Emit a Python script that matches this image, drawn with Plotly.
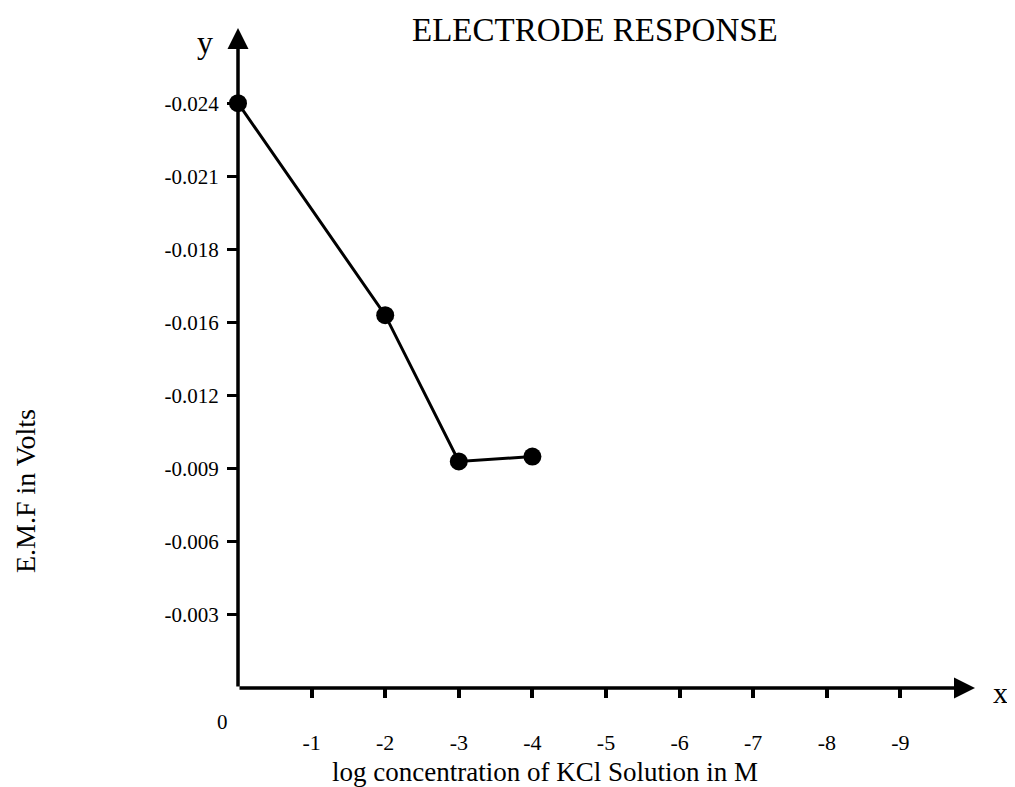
import numpy as np
import plotly.graph_objects as go

# Data
log_conc = [0, -2, -3, -4]
emf_volts = [-0.024, -0.0162, -0.0093, -0.0095]

# Y axis ticks (drawn evenly spaced in the original, though values are not)
y_tick_values = [0, -0.003, -0.006, -0.009, -0.012, -0.016, -0.018, -0.021, -0.024]
y_tick_labels = ["", "-0.003", "-0.006", "-0.009", "-0.012", "-0.016", "-0.018", "-0.021", "-0.024"]
x_tick_values = [-1, -2, -3, -4, -5, -6, -7, -8, -9]
x_tick_labels = ["-1", "-2", "-3", "-4", "-5", "-6", "-7", "-8", "-9"]

# The chart's own piecewise scale: each tick value sits at an evenly spaced position
y_positions = list(range(len(y_tick_values)))
mag_ticks = [-v for v in y_tick_values]
y_plot = [float(np.interp(-v, mag_ticks, y_positions)) for v in emf_volts]

FONT = "Liberation Serif, Times New Roman, serif"

fig = go.Figure()
fig.add_trace(go.Scatter(
    x=log_conc, y=y_plot, mode="lines+markers",
    line=dict(color="black", width=3),
    marker=dict(color="black", size=18),
    showlegend=False, cliponaxis=False,
))

# page body has an 8px margin, so the figure is laid out in page coords - 8
W, H = 1007, 779
L, R, T = 230, 40, 20
B = H - 680
PW, PH = W - L - R, H - T - B
x_range = [0, -PW / 73.6]
y_range = [0, PH / 73.1]

fig.update_layout(
    width=W, height=H,
    margin=dict(l=L, r=R, t=T, b=B),
    paper_bgcolor="white", plot_bgcolor="white",
    font=dict(family=FONT, color="black"),
    xaxis=dict(
        range=x_range, showgrid=False, zeroline=False, showline=False,
        tickvals=x_tick_values, ticktext=x_tick_labels,
        ticks="outside", ticklen=9, tickwidth=4, tickcolor="black",
        tickfont=dict(size=22, family=FONT), ticklabelstandoff=26,
    ),
    yaxis=dict(
        range=y_range, showgrid=False, zeroline=False, showline=False,
        tickvals=y_positions[1:], ticktext=y_tick_labels[1:],
        ticks="outside", ticklen=10, tickwidth=3, tickcolor="black",
        tickfont=dict(size=21, family=FONT), ticklabelstandoff=4,
    ),
)

# Axes drawn as arrows from the origin
fig.add_annotation(xref="paper", yref="paper", x=1, y=0, ax=-PW, ay=0,
                   axref="pixel", ayref="pixel", text="", showarrow=True,
                   arrowhead=2, arrowsize=1.2, arrowwidth=3.5, arrowcolor="black")
fig.add_annotation(xref="paper", yref="paper", x=0, y=1, ax=0, ay=PH,
                   axref="pixel", ayref="pixel", text="", showarrow=True,
                   arrowhead=2, arrowsize=1.2, arrowwidth=3.5, arrowcolor="black")

# Texts
fig.add_annotation(xref="paper", yref="paper", x=(587 - L) / PW, y=1.0, yshift=-2,
                   xanchor="center", yanchor="middle",
                   text="ELECTRODE RESPONSE", showarrow=False, font=dict(size=33, family=FONT))
fig.add_annotation(xref="paper", yref="paper", x=(537 - L) / PW, y=0, yshift=-84,
                   xanchor="center", yanchor="middle",
                   text="log concentration of KCl Solution in M", showarrow=False,
                   font=dict(size=27, family=FONT))
fig.add_annotation(xref="paper", yref="paper", x=0, y=(H - B - 483) / PH, xshift=-213,
                   xanchor="center", yanchor="middle",
                   text="E.M.F in Volts", textangle=-90, showarrow=False, font=dict(size=28, family=FONT))
fig.add_annotation(xref="paper", yref="paper", x=0, y=1, xshift=-33, yshift=-14,
                   xanchor="center", yanchor="middle",
                   text="y", showarrow=False, font=dict(size=32, family=FONT))
fig.add_annotation(xref="paper", yref="paper", x=1, y=0, xshift=25, yshift=-4,
                   xanchor="center", yanchor="middle",
                   text="x", showarrow=False, font=dict(size=30, family=FONT))
fig.add_annotation(xref="paper", yref="paper", x=0, y=0, xshift=-16, yshift=-34,
                   xanchor="center", yanchor="middle",
                   text="0", showarrow=False, font=dict(size=21, family=FONT))

fig.write_html("out.html")
